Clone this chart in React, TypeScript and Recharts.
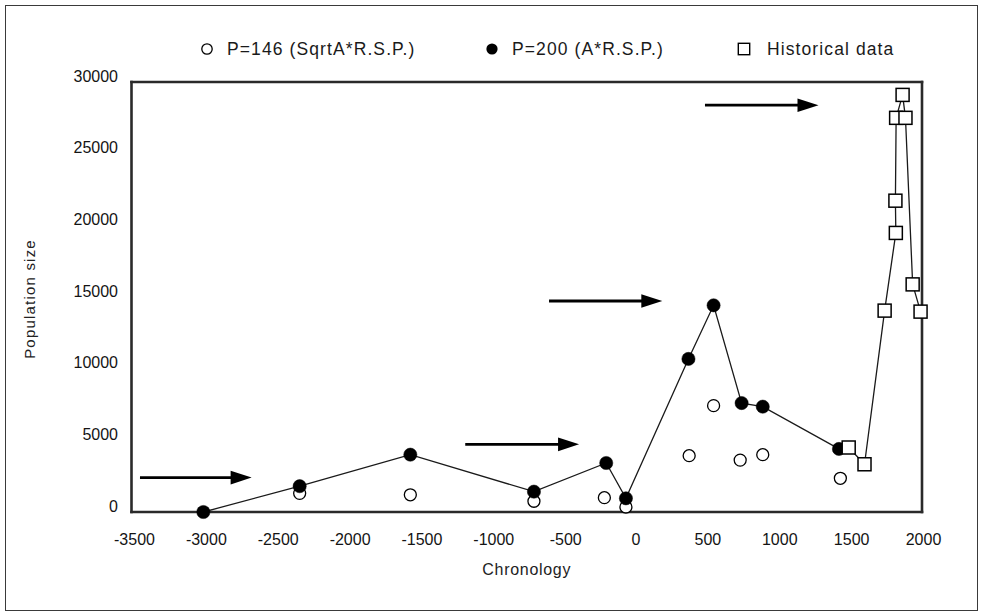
import React from 'react';
import {
  ComposedChart,
  Scatter,
  XAxis,
  YAxis,
  Legend,
  ReferenceLine,
} from 'recharts';

// ---------- data ----------
const p146Years = [-2330, -1560, -700, -210, -60, 380, 550, 735, 892, 1432];
const p146Values = [1300, 1200, 750, 1000, 350, 3930, 7420, 3620, 4000, 2350];

const p200Years = [-3000, -2330, -1560, -700, -197, -60, 375, 550, 745, 892, 1422];
const p200Values = [0, 1800, 4000, 1420, 3420, 955, 10680, 14420, 7600, 7350, 4400];

const historicalYears = [1490, 1600, 1740, 1818, 1815, 1820, 1865, 1885, 1935, 1990];
const historicalValues = [4500, 3330, 14050, 19470, 21720, 27500, 29100, 27500, 15880, 13980];

const arrowStarts = [-3441, -1178, -595, 490];
const arrowEnds = [-2664, -386, 193, 1280];
const arrowLevels = [2400, 4720, 14720, 28380];

const xTicks = [-3500, -3000, -2500, -2000, -1500, -1000, -500, 0, 500, 1000, 1500, 2000];
const yTicks = [0, 5000, 10000, 15000, 20000, 25000, 30000];

const xDomain = [-3500, 2000];
const yDomain = [0, 30000];

const legendLabels = ['P=146 (SqrtA*R.S.P.)', 'P=200 (A*R.S.P.)', 'Historical data'];

const zip = (xs: number[], ys: number[]) => xs.map((x, i) => ({ x, y: ys[i] }));
const p146Data = zip(p146Years, p146Values);
const p200Data = zip(p200Years, p200Values);
const historicalData = zip(historicalYears, historicalValues);

// ---------- styles ----------
const FONT = "'Liberation Sans', Arial, Helvetica, sans-serif";
const INK = '#141414';
const FRAME = '#2a2a2a';

const OpenCircle = (props: any) => {
  const { cx, cy } = props;
  if (cx == null || cy == null) return null;
  return <circle cx={cx} cy={cy} r={6} fill="#fff" stroke="#000" strokeWidth={1.3} />;
};
const FilledCircle = (props: any) => {
  const { cx, cy } = props;
  if (cx == null || cy == null) return null;
  return <circle cx={cx} cy={cy} r={6.6} fill="#000" stroke="#000" strokeWidth={0.5} />;
};
const OpenSquare = (props: any) => {
  const { cx, cy } = props;
  if (cx == null || cy == null) return null;
  return (
    <rect x={cx - 6.5} y={cy - 6.5} width={13} height={13} fill="#fff" stroke="#000" strokeWidth={1.5} />
  );
};

const ArrowShape = (props: any) => {
  const { x1, y1, x2, y2 } = props;
  if ([x1, y1, x2, y2].some((v) => v == null || Number.isNaN(v))) return null;
  const headLen = 21;
  const headHalf = 6.8;
  return (
    <g>
      <line x1={x1} y1={y1} x2={x2 - headLen + 2} y2={y2} stroke="#000" strokeWidth={2.8} />
      <polygon
        points={`${x2},${y2} ${x2 - headLen},${y2 - headHalf} ${x2 - headLen},${y2 + headHalf}`}
        fill="#000"
      />
    </g>
  );
};

const FrameEdge = (props: any) => {
  const { x1, y1, x2, y2 } = props;
  if ([x1, y1, x2, y2].some((v) => v == null || Number.isNaN(v))) return null;
  return (
    <line x1={x1} y1={y1} x2={x2} y2={y2} stroke={FRAME} strokeWidth={2.6} strokeLinecap="square" />
  );
};

const XTick = (props: any) => {
  const { x, y, payload } = props;
  const v = payload.value as number;
  return (
    <text
      x={x + 1.5 + (v < 0 ? 1.5 : 0)}
      y={y}
      textAnchor="middle"
      dominantBaseline="central"
      fontFamily={FONT}
      fontSize={16}
      fill={INK}
    >
      {v}
    </text>
  );
};

const YTick = (props: any) => {
  const { x, y, payload } = props;
  return (
    <text
      x={x}
      y={y - 6}
      textAnchor="end"
      dominantBaseline="central"
      fontFamily={FONT}
      fontSize={16}
      fill={INK}
    >
      {payload.value}
    </text>
  );
};

const XTitle = (props: any) => {
  const vb = props.viewBox || { x: 131.5, y: 512, width: 790.5, height: 40 };
  return (
    <text
      x={vb.x + vb.width / 2}
      y={vb.y + 63}
      textAnchor="middle"
      fontFamily={FONT}
      fontSize={16}
      letterSpacing={0.7}
      fill="#222"
    >
      Chronology
    </text>
  );
};

const YTitle = (props: any) => {
  const vb = props.viewBox || { x: 71.5, y: 82, width: 60, height: 430 };
  const cx = vb.x - 37;
  const cy = vb.y + vb.height / 2 + 2;
  return (
    <text
      x={cx}
      y={cy}
      transform={`rotate(-90 ${cx} ${cy})`}
      textAnchor="middle"
      fontFamily={FONT}
      fontSize={15}
      letterSpacing={1.2}
      fill="#222"
    >
      Population size
    </text>
  );
};

const legendLefts = [200, 485, 737];

const LegendMarker = ({ kind }: { kind: number }) => (
  <svg width={14} height={14} style={{ display: 'block' }}>
    {kind === 0 && <circle cx={7} cy={7} r={5.2} fill="#fff" stroke="#000" strokeWidth={1.3} />}
    {kind === 1 && <circle cx={7} cy={7} r={5.6} fill="#000" />}
    {kind === 2 && <rect x={1.3} y={1.3} width={11.4} height={11.4} fill="#fff" stroke="#000" strokeWidth={1.4} />}
  </svg>
);

const LegendContent = () => (
  <div style={{ position: 'relative', width: 982, height: 26 }}>
    {legendLabels.map((label, i) => (
      <div
        key={label}
        style={{
          position: 'absolute',
          left: legendLefts[i],
          top: 0,
          height: 26,
          display: 'flex',
          alignItems: 'center',
          whiteSpace: 'nowrap',
        }}
      >
        <LegendMarker kind={i} />
        <span
          style={{
            marginLeft: i === 2 ? 16 : 13,
            fontFamily: FONT,
            fontSize: 17.5,
            letterSpacing: 1.1,
            color: '#1a1a1a',
            lineHeight: '26px',
          }}
        >
          {label}
        </span>
      </div>
    ))}
  </div>
);

export default function App() {
  const axisLine = { stroke: FRAME, strokeWidth: 2.6, strokeLinecap: 'square' as const };
  return (
    <div style={{ position: 'absolute', left: 0, top: 0, width: 982, height: 613, background: '#fff' }}>
      <div
        style={{
          position: 'absolute',
          left: 5,
          top: 5,
          width: 973,
          height: 606,
          border: '1.6px solid #3a3a3a',
          boxSizing: 'border-box',
          pointerEvents: 'none',
        }}
      />
      <ComposedChart
        width={982}
        height={613}
        margin={{ top: 82, right: 60, bottom: 61, left: 71.5 }}
        style={{ position: 'absolute', left: 0, top: 0 }}
      >
        <XAxis
          dataKey="x"
          type="number"
          domain={xDomain}
          ticks={xTicks}
          interval={0}
          height={40}
          tickLine={false}
          tickSize={0}
          tickMargin={27}
          axisLine={axisLine}
          tick={<XTick />}
          label={{ content: (p: any) => <XTitle {...p} /> }}
        />
        <YAxis
          dataKey="y"
          type="number"
          domain={yDomain}
          ticks={yTicks}
          interval={0}
          width={60}
          tickLine={false}
          tickSize={0}
          tickMargin={13.5}
          axisLine={axisLine}
          tick={<YTick />}
          label={{ content: (p: any) => <YTitle {...p} /> }}
        />
        <Legend
          layout="horizontal"
          verticalAlign="middle"
          align="center"
          wrapperStyle={{ top: 36, left: 0, width: 982, height: 26 }}
          content={() => <LegendContent />}
        />
        <ReferenceLine
          segment={[
            { x: xDomain[0], y: yDomain[1] },
            { x: xDomain[1], y: yDomain[1] },
          ]}
          shape={(p: any) => <FrameEdge {...p} />}
          ifOverflow="visible"
        />
        <ReferenceLine
          segment={[
            { x: xDomain[1], y: yDomain[0] },
            { x: xDomain[1], y: yDomain[1] },
          ]}
          shape={(p: any) => <FrameEdge {...p} />}
          ifOverflow="visible"
        />
        {arrowStarts.map((s, i) => (
          <ReferenceLine
            key={`arrow-${i}`}
            segment={[
              { x: s, y: arrowLevels[i] },
              { x: arrowEnds[i], y: arrowLevels[i] },
            ]}
            shape={(p: any) => <ArrowShape {...p} />}
            ifOverflow="visible"
          />
        ))}
        <Scatter
          name={legendLabels[0]}
          data={p146Data}
          shape={(p: any) => <OpenCircle {...p} />}
          isAnimationActive={false}
        />
        <Scatter
          name={legendLabels[1]}
          data={p200Data}
          line={{ stroke: '#1a1a1a', strokeWidth: 1.3 }}
          lineType="joint"
          shape={(p: any) => <FilledCircle {...p} />}
          isAnimationActive={false}
        />
        <Scatter
          name={legendLabels[2]}
          data={historicalData}
          line={{ stroke: '#1a1a1a', strokeWidth: 1.3 }}
          lineType="joint"
          shape={(p: any) => <OpenSquare {...p} />}
          isAnimationActive={false}
        />
      </ComposedChart>
    </div>
  );
}
